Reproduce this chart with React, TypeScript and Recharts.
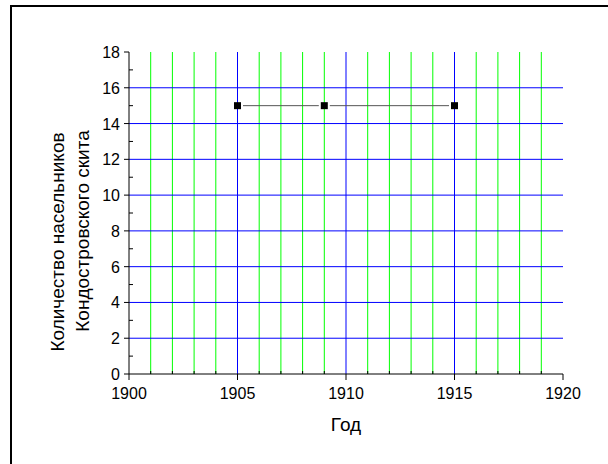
import { LineChart, Line, XAxis, YAxis, CartesianGrid } from 'recharts';

const years = [1905, 1909, 1915];
const monks = [15, 15, 15];

const xTicks = [1900, 1901, 1902, 1903, 1904, 1905, 1906, 1907, 1908, 1909, 1910, 1911, 1912, 1913, 1914, 1915, 1916, 1917, 1918, 1919, 1920];
const yTicks = [0, 1, 2, 3, 4, 5, 6, 7, 8, 9, 10, 11, 12, 13, 14, 15, 16, 17, 18];
const majorYears = [1905, 1910, 1915];
const minorYears = [1901, 1902, 1903, 1904, 1906, 1907, 1908, 1909, 1911, 1912, 1913, 1914, 1916, 1917, 1918, 1919];
const majorCounts = [2, 4, 6, 8, 10, 12, 14, 16];

const data = years.map((y, i) => ({ year: y, count: monks[i] }));

const font = 'Arial, "Liberation Sans", sans-serif';

const XTick = (props: any) => {
  const { x, y, payload } = props;
  const v = payload.value;
  if (v % 5 !== 0) {
    return <line x1={x} x2={x} y1={y} y2={y - 3} stroke="#000" />;
  }
  return (
    <g>
      <line x1={x} x2={x} y1={y} y2={y + 6} stroke="#000" />
      <text x={x} y={y + 25} textAnchor="middle" fontSize={16} fontFamily={font} fill="#000">
        {v}
      </text>
    </g>
  );
};

const YTick = (props: any) => {
  const { x, y, payload } = props;
  const v = payload.value;
  if (v % 2 !== 0) {
    return <line x1={x} x2={x + 4} y1={y} y2={y} stroke="#000" />;
  }
  return (
    <g>
      <line x1={x} x2={x - 5} y1={y} y2={y} stroke="#000" />
      <text x={x - 9} y={y + 6} textAnchor="end" fontSize={16} fontFamily={font} fill="#000">
        {v}
      </text>
    </g>
  );
};

const YTitle = () => (
  <g fontFamily={font} fontSize={19} fill="#000">
    <text x={64} y={242} textAnchor="middle" transform="rotate(-90 64 242)">
      Количество насельников
    </text>
    <text x={89} y={231} textAnchor="middle" transform="rotate(-90 89 231)">
      Кондостровского скита
    </text>
  </g>
);

const XTitle = (props: any) => {
  const vb = props.viewBox;
  const cx = vb.x + vb.width / 2;
  return (
    <text x={cx} y={431} textAnchor="middle" fontFamily={font} fontSize={19} fill="#000">
      Год
    </text>
  );
};

// square marker with a small white gap where the line meets it
const Marker = (p: any) => (
  <g key={p.index}>
    <rect x={p.cx - 5.5} y={p.cy - 1.5} width={11} height={3} fill="#fff" />
    <rect x={p.cx - 3.5} y={p.cy - 3.5} width={7} height={7} fill="#000" />
  </g>
);

export default function App() {
  return (
    <div style={{ position: 'fixed', left: 0, top: 0, width: 608, height: 464, overflow: 'hidden', background: '#fff' }}>
      <div style={{ position: 'absolute', left: 10, top: 5, width: 640, height: 500, border: '2px solid #000' }} />
      <div style={{ position: 'absolute', left: 0, top: 0, pointerEvents: 'none' }}>
        <LineChart
          width={608}
          height={464}
          data={data}
          accessibilityLayer={false}
          margin={{ top: 52, right: 45, bottom: 60, left: 69 }}
        >
          <CartesianGrid horizontal={false} verticalValues={minorYears} stroke="#00ff00" strokeDasharray="" />
          <CartesianGrid vertical={false} horizontalValues={majorCounts} stroke="#0000ff" strokeDasharray="" />
          <CartesianGrid horizontal={false} verticalValues={majorYears} stroke="#0000ff" strokeDasharray="" />
          <XAxis
            type="number"
            dataKey="year"
            domain={[1900, 1920]}
            ticks={xTicks}
            interval={0}
            height={30}
            tickSize={0}
            tickMargin={0}
            tickLine={false}
            axisLine={{ stroke: '#000' }}
            tick={<XTick />}
            label={<XTitle />}
          />
          <YAxis
            type="number"
            domain={[0, 18]}
            ticks={yTicks}
            interval={0}
            width={60}
            tickSize={0}
            tickMargin={0}
            tickLine={false}
            axisLine={{ stroke: '#000' }}
            tick={<YTick />}
            label={<YTitle />}
          />
          <Line
            type="linear"
            dataKey="count"
            stroke="#555"
            strokeWidth={1}
            isAnimationActive={false}
            dot={Marker}
            activeDot={false}
          />
        </LineChart>
      </div>
    </div>
  );
}
